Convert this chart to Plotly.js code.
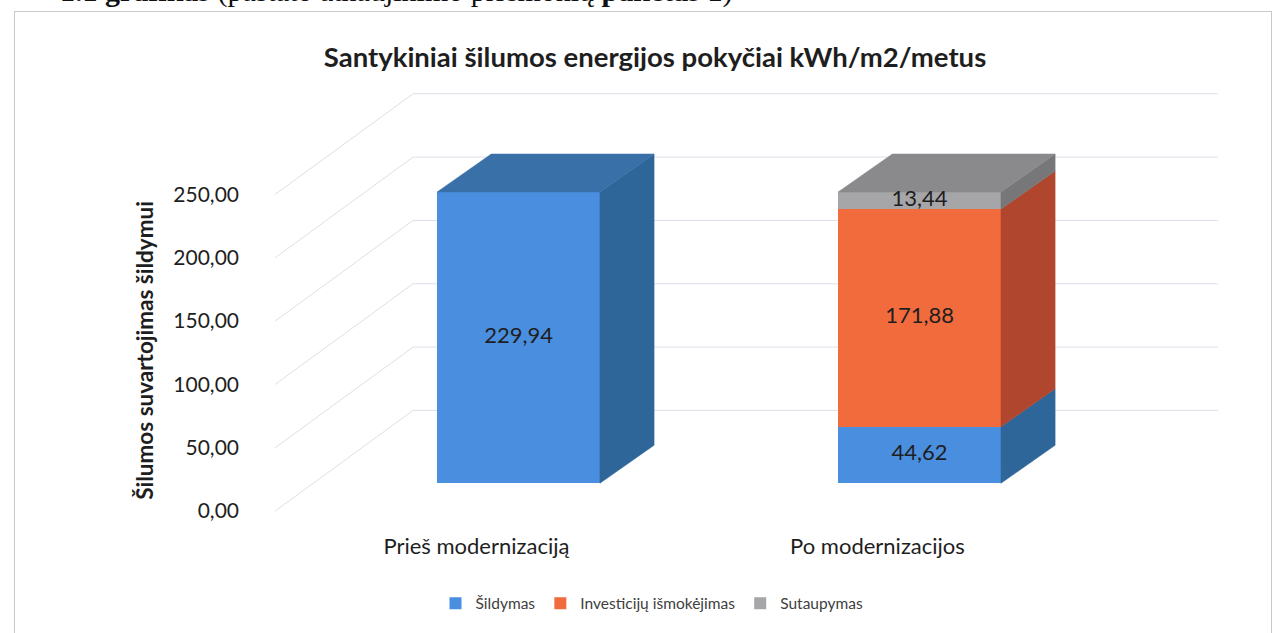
<!DOCTYPE html>
<html><head><meta charset="utf-8">
<script src="https://cdn.plot.ly/plotly-3.0.1.min.js"></script>
<style>
html,body{margin:0;padding:0;background:#fff;}
#wrap{position:relative;width:1285px;height:633px;overflow:hidden;}
#chart{width:1285px;height:633px;}
#frame{position:absolute;left:14px;top:11px;width:1256px;height:640px;border:1px solid #c9c9c9;pointer-events:none;}
</style></head><body>
<div id="wrap"><div id="chart"></div><div id="frame"></div></div>
<script>
// ---- data ----
const categories = ['Prieš modernizaciją', 'Po modernizacijos'];
const seriesNames = ['Šildymas', 'Investicijų išmokėjimas', 'Sutaupymas'];
const sildymas = [229.94, 44.62];
const investicijos = [null, 171.88];
const sutaupymas = [null, 13.44];
const yTicks = [0, 50, 100, 150, 200, 250];
const yTickLabels = ['0,00', '50,00', '100,00', '150,00', '200,00', '250,00'];
const yAxisTitle = 'Šilumos suvartojimas šildymui';
const chartTitle = 'Santykiniai šilumos energijos pokyčiai kWh/m2/metus';
const headerText = '<b>1.1 grafikas</b> (pastato atnaujinimo priemonių <b>paketas 1</b>)';

// ---- styles ----
const frontColors = ['#4A8FDF', '#F26B3D', '#A6A6A8'];
const sideColors = ['#2E6699', '#B1462F', '#77777A'];
const topColors = ['#3A70A8', '#C05035', '#8A8A8D'];
const BAR_W = 0.406, DEPTH_X = 0.135, DEPTH_Y = 30;
const LABEL_SHIFT = -22, WALL_SHIFT = 57.5;
const WALL_FRONT_X = -0.607, WALL_BACK_X = -0.263, WALL_END_X = 1.744;
const CAT_LABEL_SHIFT = -0.105;
const FONT = 'Lato, "Open Sans", sans-serif';

const series = [sildymas, investicijos, sutaupymas];
const xs = categories.map((c, i) => i);
const traces = [];

// front faces (bars)
series.forEach((vals, s) => {
  traces.push({
    type: 'bar', x: xs, y: vals, name: seriesNames[s], width: BAR_W,
    marker: {color: frontColors[s], line: {width: 0}},
    hoverinfo: 'name+y'
  });
});

// side and top faces + labels
const labelX = [], labelY = [], labelT = [];
xs.forEach((x, i) => {
  let base = 0;
  let topIdx = -1;
  series.forEach((vals, s) => { if (vals[i] != null) topIdx = s; });
  series.forEach((vals, s) => {
    const v = vals[i];
    if (v == null) return;
    const t = base + v;
    const xr = x + BAR_W / 2, xl = x - BAR_W / 2;
    traces.push({
      type: 'scatter', mode: 'lines', fill: 'toself', showlegend: false, hoverinfo: 'skip',
      x: [xr, xr + DEPTH_X, xr + DEPTH_X, xr, xr],
      y: [base, base + DEPTH_Y, t + DEPTH_Y, t, base],
      line: {width: 0.5, color: sideColors[s]}, fillcolor: sideColors[s]
    });
    if (s === topIdx) {
      traces.push({
        type: 'scatter', mode: 'lines', fill: 'toself', showlegend: false, hoverinfo: 'skip',
        x: [xl, xl + DEPTH_X, xr + DEPTH_X, xr, xl],
        y: [t, t + DEPTH_Y, t + DEPTH_Y, t, t],
        line: {width: 0.5, color: topColors[s]}, fillcolor: topColors[s]
      });
    }
    labelX.push(x); labelY.push(base + v / 2); labelT.push(v.toFixed(2).replace('.', ','));
    base = t;
  });
});
traces.push({
  type: 'scatter', mode: 'text', x: labelX, y: labelY, text: labelT, showlegend: false,
  hoverinfo: 'skip', textposition: 'middle center',
  textfont: {family: FONT, size: 22, color: '#1e1e1e'}
});

// back-wall gridlines
const shapes = [];
yTicks.forEach(v => {
  shapes.push({type: 'line', xref: 'x', yref: 'y', layer: 'below',
    x0: WALL_FRONT_X, y0: v + LABEL_SHIFT, x1: WALL_BACK_X, y1: v + WALL_SHIFT,
    line: {color: '#dedee9', width: 1}});
  shapes.push({type: 'line', xref: 'x', yref: 'y', layer: 'below',
    x0: WALL_BACK_X, y0: v + WALL_SHIFT, x1: WALL_END_X, y1: v + WALL_SHIFT,
    line: {color: '#dedee9', width: 1}});
});

const layout = {
  width: 1285, height: 633,
  margin: {l: 270, r: 45, t: 75, b: 100},
  paper_bgcolor: 'rgba(0,0,0,0)', plot_bgcolor: 'rgba(0,0,0,0)',
  barmode: 'stack',
  showlegend: true,
  title: {text: chartTitle,
    font: {family: FONT, size: 27.5, weight: 'bold', color: '#1e1e1e'},
    x: 655 / 1285, xref: 'container', xanchor: 'center', y: 1 - 57 / 633, yanchor: 'middle'},
  xaxis: {range: [-0.6197, 1.799], showgrid: false, zeroline: false, showline: false,
    tickvals: xs.map(x => x + CAT_LABEL_SHIFT), ticktext: categories, ticks: '',
    tickfont: {family: FONT, size: 22, color: '#1e1e1e'}, fixedrange: true},
  yaxis: {range: [-37.7, 322.3], showgrid: false, zeroline: false, showline: false,
    tickvals: yTicks.map(v => v + LABEL_SHIFT), ticktext: yTickLabels, ticks: '',
    ticklabelstandoff: 30,
    tickfont: {family: FONT, size: 21, color: '#1e1e1e'}, fixedrange: true},
  legend: {orientation: 'h', x: (652 - 270) / 970, xanchor: 'center', y: (533 - 606) / 458, yanchor: 'middle',
    font: {family: FONT, size: 15.5, color: '#404040'}, traceorder: 'normal'},
  shapes: shapes,
  annotations: [{
    xref: 'paper', yref: 'paper', x: (58 - 270) / 970, y: (533 - 10) / 458, xanchor: 'left', yanchor: 'bottom',
    showarrow: false, text: headerText,
    font: {family: '"Liberation Serif", serif', size: 30, color: '#111'}
  }, {
    xref: 'paper', yref: 'paper', x: (145 - 270) / 970, y: (533 - 352) / 458, xanchor: 'center', yanchor: 'middle',
    showarrow: false, textangle: -90, text: yAxisTitle,
    font: {family: FONT, size: 22.5, weight: 'bold', color: '#1e1e1e'}
  }]
};

Plotly.newPlot('chart', traces, layout, {displayModeBar: false, staticPlot: true});
</script>
</body></html>
